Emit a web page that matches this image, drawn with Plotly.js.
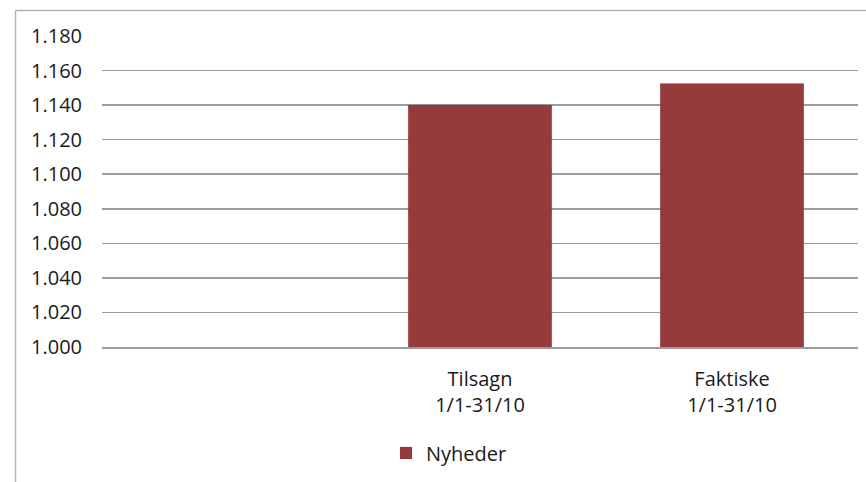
<!DOCTYPE html>
<html>
<head>
<meta charset="utf-8">
<script src="https://cdn.plot.ly/plotly-3.0.1.min.js"></script>
<style>
html,body{margin:0;padding:0;background:#fff;}
#chart{width:866px;height:482px;}
</style>
</head>
<body>
<div id="chart"></div>
<script>
const categories = [" ", "Tilsagn<br>1/1-31/10", "Faktiske<br>1/1-31/10"];
const nyheder = [null, 1140, 1152.5];
const seriesName = "Nyheder";

const fontFamily = "'Open Sans', 'DejaVu Sans', sans-serif";
const textColor = "#1a1a1a";
const gridColor = "#9c9c9c";

const trace = {
  type: "bar",
  x: categories,
  y: nyheder,
  name: seriesName,
  marker: {color: "#953b3b", line: {color: "rgba(0,0,0,0.08)", width: 1}},
  hoverinfo: "none",
  showlegend: true
};

const fx = (px) => (px - 102) / 756;
const fy = (py) => (347 - py) / 311;

const layout = {
  width: 866,
  height: 482,
  margin: {l: 102, r: 8, t: 36, b: 135, pad: 0},
  paper_bgcolor: "#ffffff",
  plot_bgcolor: "#ffffff",
  separators: ",.",
  font: {family: fontFamily, size: 20, color: textColor},
  bargap: 0.43,
  xaxis: {
    type: "category",
    categoryorder: "array",
    categoryarray: categories,
    range: [-0.5, 2.5],
    showgrid: false,
    showline: true,
    linecolor: gridColor,
    linewidth: 1.5,
    ticks: "",
    ticklabelstandoff: 13,
    tickfont: {family: fontFamily, size: 20, color: textColor},
    fixedrange: true
  },
  yaxis: {
    range: [1000, 1180],
    tick0: 1000,
    dtick: 20,
    tickformat: ",d",
    showgrid: true,
    gridcolor: gridColor,
    gridwidth: 1.5,
    zeroline: false,
    showline: false,
    ticks: "",
    ticklabelstandoff: 19,
    tickfont: {family: fontFamily, size: 20, color: textColor},
    fixedrange: true
  },
  legend: {
    orientation: "h",
    x: fx(386),
    xanchor: "left",
    y: fy(453),
    yanchor: "middle",
    font: {family: fontFamily, size: 20, color: textColor},
    bgcolor: "rgba(0,0,0,0)",
    borderwidth: 0
  },
  shapes: [
    {type: "line", xref: "paper", yref: "paper", x0: fx(15.5), x1: fx(15.5), y0: fy(10.5), y1: fy(500), line: {color: "#b3b3b3", width: 1.5}},
    {type: "line", xref: "paper", yref: "paper", x0: fx(15.5), x1: fx(900), y0: fy(10.5), y1: fy(10.5), line: {color: "#b3b3b3", width: 1.5}}
  ],
  showlegend: true
};

Plotly.newPlot("chart", [trace], layout, {displayModeBar: false, staticPlot: true});
</script>
</body>
</html>
